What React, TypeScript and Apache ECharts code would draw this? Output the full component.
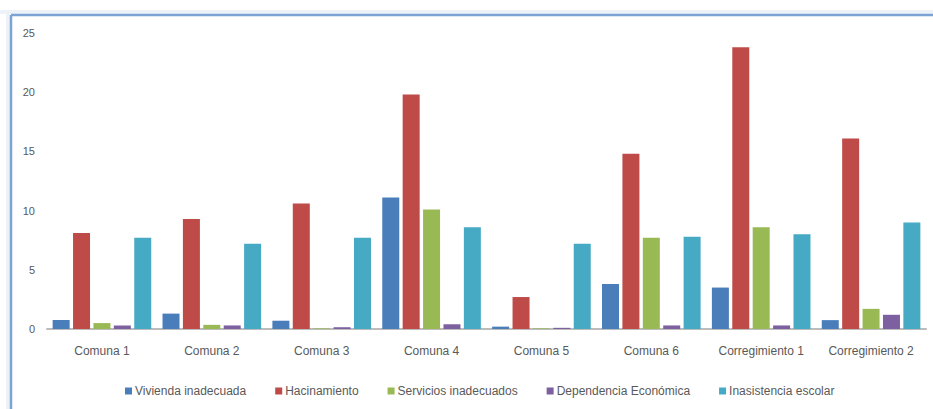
import React, { useEffect, useRef } from "react";
import * as echarts from "echarts";

const categories = ["Comuna 1", "Comuna 2", "Comuna 3", "Comuna 4", "Comuna 5", "Comuna 6", "Corregimiento 1", "Corregimiento 2"];
const seriesNames = ["Vivienda inadecuada", "Hacinamiento", "Servicios inadecuados", "Dependencia Económica", "Inasistencia escolar"];
const viviendaInadecuada = [0.75, 1.3, 0.7, 11.1, 0.2, 3.8, 3.5, 0.75];
const hacinamiento = [8.1, 9.3, 10.6, 19.8, 2.7, 14.8, 23.8, 16.1];
const serviciosInadecuados = [0.5, 0.35, 0.05, 10.1, 0.05, 7.7, 8.6, 1.7];
const dependenciaEconomica = [0.3, 0.3, 0.15, 0.4, 0.1, 0.3, 0.3, 1.2];
const inasistenciaEscolar = [7.7, 7.2, 7.7, 8.6, 7.2, 7.8, 8.0, 9.0];
const yTicks = [0, 5, 10, 15, 20, 25];

const colors = ["#4a7ebb", "#be4b48", "#98b954", "#7d60a0", "#46aac5"];

export default function App() {
  const ref = useRef<HTMLDivElement>(null);
  useEffect(() => {
    if (!ref.current) return;
    const chart = echarts.init(ref.current, undefined, { renderer: "svg" });
    const values = [viviendaInadecuada, hacinamiento, serviciosInadecuados, dependenciaEconomica, inasistenciaEscolar];
    const font = "'Liberation Sans', Arial, sans-serif";
    chart.setOption({
      animation: false,
      backgroundColor: "#ffffff",
      color: colors,
      textStyle: { fontFamily: font },
      grid: { left: 47, right: 7, top: 33, bottom: 80, containLabel: false },
      legend: {
        data: seriesNames,
        left: 120,
        top: 380,
        itemWidth: 7,
        itemHeight: 7,
        itemGap: 29,
        icon: "rect",
        textStyle: { color: "#595959", fontSize: 12, fontFamily: font, padding: [0, 0, 0, -2] },
      },
      xAxis: {
        type: "category",
        data: categories,
        axisLine: { show: true, lineStyle: { color: "#bcbcbc", width: 2 } },
        axisTick: { show: false },
        axisLabel: { color: "#595959", fontSize: 12, margin: 16, fontFamily: font, interval: 0 },
      },
      yAxis: {
        type: "value",
        min: yTicks[0],
        max: yTicks[yTicks.length - 1],
        interval: 5,
        splitLine: { show: false },
        axisLine: { show: false },
        axisTick: { show: false },
        axisLabel: { color: "#595959", fontSize: 11, margin: 12, fontFamily: font },
      },
      series: seriesNames.map((name, i) => ({
        name,
        type: "bar",
        data: values[i],
        barWidth: 17,
        barGap: "20%",
        itemStyle: { color: colors[i] },
      })),
      graphic: [
        { type: "rect", shape: { x: 0, y: 10, width: 933, height: 4 }, style: { fill: "#edf2f9" }, silent: true },
        { type: "rect", shape: { x: 6, y: 14, width: 4, height: 400 }, style: { fill: "#edf2f9" }, silent: true },
        { type: "line", shape: { x1: 11, y1: 15, x2: 933, y2: 15 }, style: { stroke: "#7ba3d4", lineWidth: 2.5 }, silent: true },
        { type: "line", shape: { x1: 11, y1: 15, x2: 11, y2: 409 }, style: { stroke: "#7ba3d4", lineWidth: 2.5 }, silent: true },
      ],
    });
    return () => chart.dispose();
  }, []);
  return (
    <div
      ref={ref}
      style={{ position: "fixed", left: 0, top: 0, width: 933, height: 409, background: "#fff" }}
    />
  );
}
